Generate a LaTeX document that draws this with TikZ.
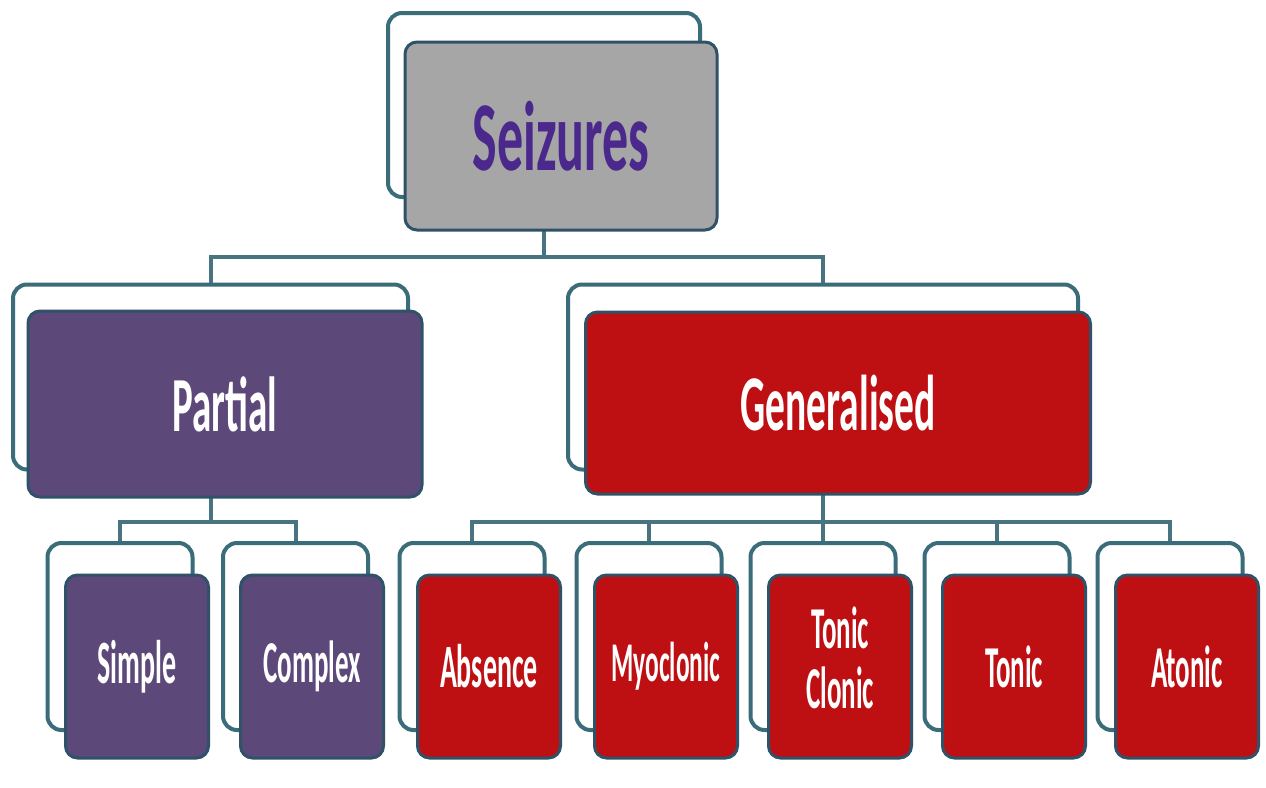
\documentclass[tikz,border=0pt]{standalone}
\usepackage{fontspec}
\setmainfont{Carlito}
\usetikzlibrary{calc}
\definecolor{framecol}{RGB}{58,108,122}
\definecolor{linecol}{RGB}{72,116,130}
\definecolor{edgecol}{RGB}{48,82,104}
\definecolor{purplefill}{RGB}{93,72,122}
\definecolor{redfill}{RGB}{190,16,18}
\definecolor{greyfill}{RGB}{166,166,166}
\definecolor{titlecol}{RGB}{75,40,140}
\newcommand{\mylbl}[3]{\scalebox{1}[#2]{\fontsize{#1}{#1}\selectfont\bfseries #3}}
\begin{document}
\begin{tikzpicture}[x=1pt,y=-1pt,
  backframe/.style={draw=framecol, line width=4pt, fill=white, rounded corners=14pt, inner sep=0pt},
  frontbox/.style={draw=edgecol, line width=3pt, rounded corners=12pt, inner sep=0pt, text=white},
  topbox/.style={frontbox, fill=greyfill, text=titlecol},
  purplebox/.style={frontbox, fill=purplefill},
  redbox/.style={frontbox, fill=redfill},
  bigback/.style={backframe, minimum width=#1, minimum height=185pt},
  kidback/.style={backframe, minimum width=145pt, minimum height=187pt},
  kidpurple/.style={purplebox, minimum width=143pt, minimum height=183pt},
  kidred/.style={redbox, minimum width=143pt, minimum height=183pt},
  connector/.style={draw=linecol, line width=4pt}
]
\useasboundingbox (0,0) rectangle (1266,787);
\fill[white] (0,0) rectangle (1266,787);

% back frames
\node[backframe, minimum width=312pt, minimum height=184pt] (sb) at (544,105) {};
\node[bigback=395pt] (pb) at (210.5,377) {};
\node[bigback=510pt] (gb) at (823,377) {};
\node[kidback] (simb) at (120,636.5) {};
\node[kidback] (comb) at (295.5,636.5) {};
\node[kidback] (absb) at (472,636.5) {};
\node[kidback] (myob) at (649,636.5) {};
\node[kidback] (tcb) at (823,636.5) {};
\node[kidback] (tonb) at (997,636.5) {};
\node[kidback] (atob) at (1170,636.5) {};

% junction levels
\coordinate (j1) at (0,257);
\coordinate (j2) at (0,522);

% connectors
\draw[connector] (sb.south) -- (sb.south |- j1) -| (pb.north);
\draw[connector] (sb.south |- j1) -| (gb.north);
\draw[connector] (pb.south) -- (pb.south |- j2) -| (simb.north);
\draw[connector] (pb.south |- j2) -| (comb.north);
\draw[connector] (gb.south) -- (gb.south |- j2) -| (absb.north);
\draw[connector] (gb.south |- j2) -| (atob.north);
\draw[connector] (myob.north) -- (myob.north |- j2);
\draw[connector] (tcb.north) -- (tcb.north |- j2);
\draw[connector] (tonb.north) -- (tonb.north |- j2);

% front boxes
\node[topbox, minimum width=312pt, minimum height=188pt] (seiz) at (561,136) {\mylbl{52}{1.9}{Seizures}};
\node[purplebox, minimum width=394pt, minimum height=186pt] (part) at (225,404) {\mylbl{39}{2.0}{Partial}};
\node[redbox, minimum width=505pt, minimum height=182pt] (gen) at (838,403) {\mylbl{39.5}{2.0}{Generalised}};
\node[kidpurple] (simple) at (137,666.5) {\raisebox{-4pt}{\mylbl{28}{2.2}{Simple}}};
\node[kidpurple] (complex) at (312,666.5) {\mylbl{27}{2.2}{Complex}};
\node[kidred] (absence) at (489,666.5) {\mylbl{28}{2.2}{Absence}};
\node[kidred] (myoclonic) at (666,666.5) {\mylbl{25.5}{2.2}{Myoclonic}};
\node[kidred] (tonicclonic) at (840,666.5) {\mylbl{27}{2.2}{\begin{tabular}{@{}c@{}}Tonic\\Clonic\end{tabular}}};
\node[kidred] (tonic) at (1014,666.5) {\mylbl{27}{2.2}{Tonic}};
\node[kidred] (atonic) at (1187,666.5) {\mylbl{27}{2.2}{Atonic}};
\end{tikzpicture}
\end{document}
